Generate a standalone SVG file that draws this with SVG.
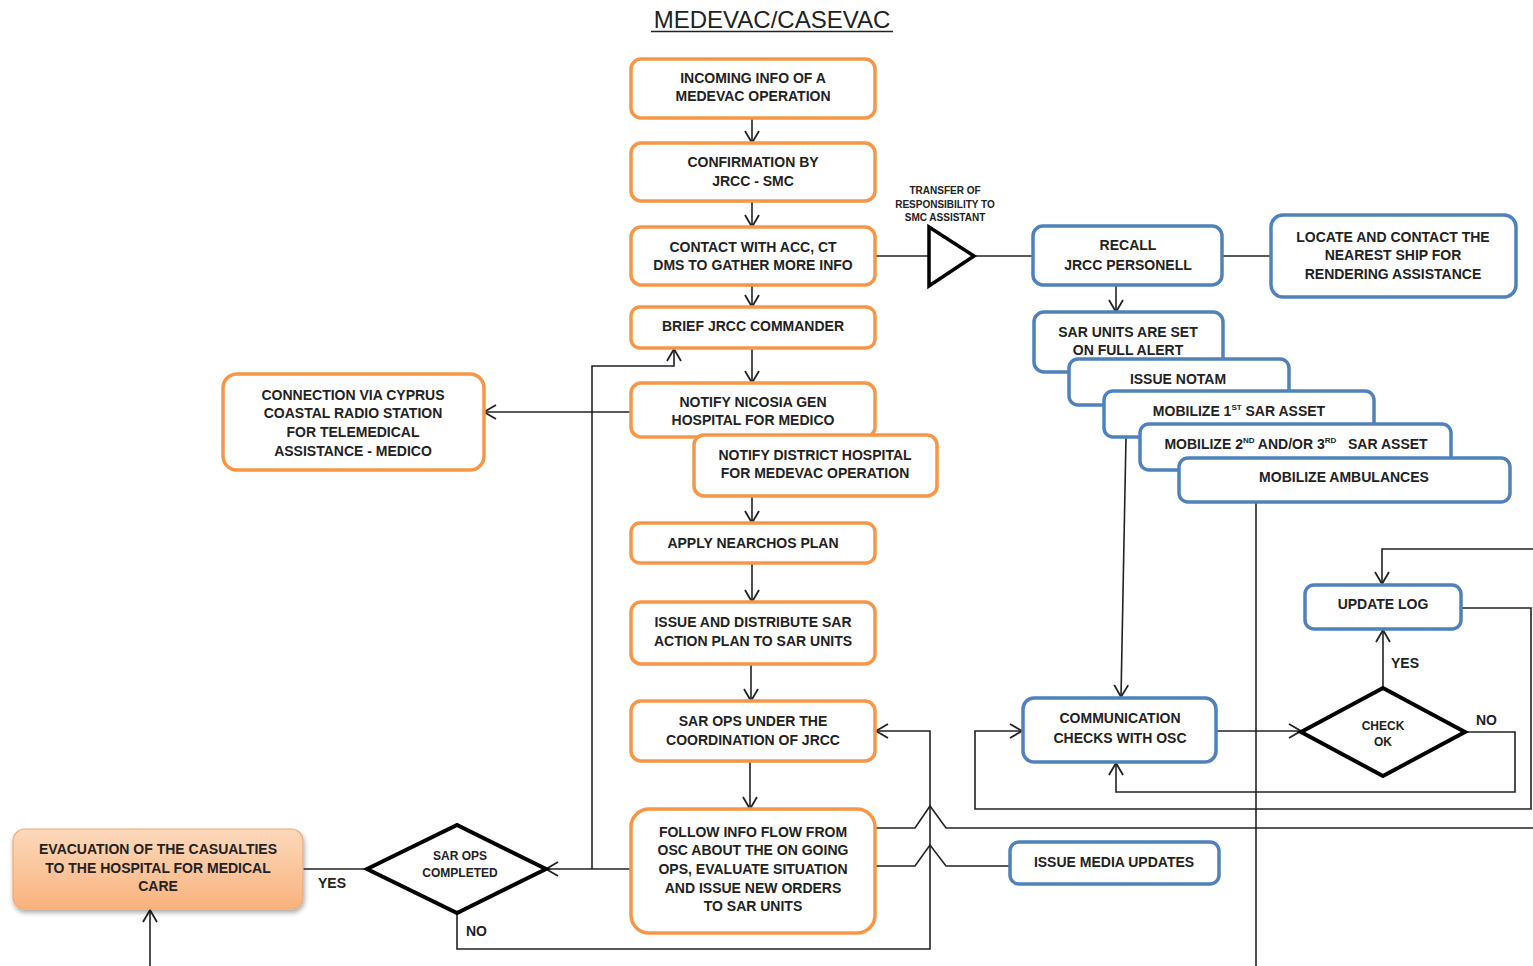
<svg xmlns="http://www.w3.org/2000/svg" width="1533" height="966" viewBox="0 0 1533 966">
<style>
.t{font-family:"Liberation Sans",Arial,sans-serif;font-weight:bold;font-size:14px;fill:#222;text-anchor:middle}
.s{font-size:12px}
.xs{font-size:10px}
.lbl{font-family:"Liberation Sans",Arial,sans-serif;font-weight:bold;font-size:14px;fill:#222}
.o{fill:#fff;stroke:#F79646;stroke-width:3.5}
.b{fill:#fff;stroke:#4F81BD;stroke-width:3.5}
.c{fill:none;stroke:#222;stroke-width:1.6}
.ca{fill:none;stroke:#222;stroke-width:1.6;marker-end:url(#ah)}
.d{fill:#fff;stroke:#000;stroke-width:4;stroke-linejoin:miter}
</style>
<defs>
<marker id="ah" markerUnits="userSpaceOnUse" markerWidth="16" markerHeight="16" refX="13" refY="8" orient="auto">
<path d="M1,1 L13,8 L1,15" fill="none" stroke="#222" stroke-width="1.8"/>
</marker>
<linearGradient id="eg" x1="0" y1="0" x2="0" y2="1">
<stop offset="0" stop-color="#FCD9BC"/>
<stop offset="1" stop-color="#F9B27C"/>
</linearGradient>
<filter id="sh" x="-10%" y="-10%" width="120%" height="130%">
<feGaussianBlur in="SourceAlpha" stdDeviation="2.5"/>
<feOffset dx="1" dy="3" result="o"/>
<feComponentTransfer><feFuncA type="linear" slope="0.35"/></feComponentTransfer>
<feMerge><feMergeNode/><feMergeNode in="SourceGraphic"/></feMerge>
</filter>
</defs>
<rect width="1533" height="966" fill="#fff"/>
<g id="title">
<text x="772" y="28" style="font-family:'Liberation Sans',Arial,sans-serif;font-size:24px;fill:#222;text-anchor:middle">MEDEVAC/CASEVAC</text>
<line x1="651" y1="31.5" x2="893" y2="31.5" stroke="#222" stroke-width="1.5"/>
</g>
<g id="connectors">
<path class="ca" d="M752,118 V143"/>
<path class="ca" d="M752,201 V227"/>
<path class="ca" d="M752,285 V307"/>
<path class="ca" d="M752,348 V383"/>
<path class="ca" d="M752,496 V523"/>
<path class="ca" d="M752,563 V602"/>
<path class="ca" d="M751,664 V701"/>
<path class="ca" d="M750,761 V809"/>
<path class="c" d="M875,256 H929"/>
<path class="c" d="M975,256 H1033"/>
<path class="c" d="M1222,256 H1271"/>
<path class="ca" d="M1116,285 V312"/>
<path class="ca" d="M631,412 H484"/>
<path class="ca" d="M631,869 H546"/>
<path class="ca" d="M592,869 V366 H674 V349"/>
<path class="c" d="M367,869 H303"/>
<path class="ca" d="M150,966 V910"/>
<path class="ca" d="M457,913 V949 H930 V731 H876"/>
<path class="c" d="M875,828 H915 L930,806 L946,828 H1533"/>
<path class="c" d="M875,866 H915 L930,845 L946,866 H1010"/>
<path class="ca" d="M1126,437 L1121,697"/>
<path class="c" d="M1256,502 V966"/>
<path class="ca" d="M1216,731 H1301"/>
<path class="ca" d="M1383,688 V630"/>
<path class="ca" d="M1465,732 H1515 V792 H1116 V763"/>
<path class="ca" d="M1461,608 H1531 V809 H975 V731 H1022"/>
<path class="ca" d="M1533,549 H1382 V584"/>
<text class="lbl" x="318" y="888">YES</text>
<text class="lbl" x="466" y="936">NO</text>
<text class="lbl" x="1391" y="668">YES</text>
<text class="lbl" x="1476" y="725">NO</text>
</g>
<g id="transfer">
<polygon points="929,227 929,286 974,256" fill="#fff" stroke="#000" stroke-width="3.5"/>
<text class="t xs" x="945" y="194">TRANSFER OF</text>
<text class="t xs" x="945" y="208">RESPONSIBILITY TO</text>
<text class="t xs" x="945" y="221">SMC ASSISTANT</text>
</g>
<g id="n-incoming"><rect class="o" x="631" y="59" width="244" height="59" rx="10"/>
<text class="t" x="753" y="83">INCOMING INFO OF A</text><text class="t" x="753" y="101">MEDEVAC OPERATION</text></g>
<g id="n-confirm"><rect class="o" x="631" y="143" width="244" height="58" rx="10"/>
<text class="t" x="753" y="167">CONFIRMATION BY</text><text class="t" x="753" y="186">JRCC - SMC</text></g>
<g id="n-contact"><rect class="o" x="631" y="227" width="244" height="58" rx="10"/>
<text class="t" x="753" y="252">CONTACT WITH ACC, CT</text><text class="t" x="753" y="270">DMS TO GATHER MORE INFO</text></g>
<g id="n-brief"><rect class="o" x="631" y="307" width="244" height="41" rx="9"/>
<text class="t" x="753" y="331">BRIEF JRCC COMMANDER</text></g>
<g id="n-nicosia"><rect class="o" x="631" y="383" width="244" height="54" rx="10"/>
<text class="t" x="753" y="407">NOTIFY NICOSIA GEN</text><text class="t" x="753" y="425">HOSPITAL FOR MEDICO</text></g>
<g id="n-district"><rect class="o" x="694" y="435" width="243" height="61" rx="10"/>
<text class="t" x="815" y="460">NOTIFY DISTRICT HOSPITAL</text><text class="t" x="815" y="478">FOR MEDEVAC OPERATION</text></g>
<g id="n-apply"><rect class="o" x="631" y="523" width="244" height="40" rx="9"/>
<text class="t" x="753" y="548">APPLY NEARCHOS PLAN</text></g>
<g id="n-issue"><rect class="o" x="631" y="602" width="244" height="62" rx="10"/>
<text class="t" x="753" y="627">ISSUE AND DISTRIBUTE SAR</text><text class="t" x="753" y="646">ACTION PLAN TO SAR UNITS</text></g>
<g id="n-sarops"><rect class="o" x="631" y="701" width="244" height="60" rx="10"/>
<text class="t" x="753" y="726">SAR OPS UNDER THE</text><text class="t" x="753" y="745">COORDINATION OF JRCC</text></g>
<g id="n-follow"><rect class="o" x="631" y="809" width="244" height="124" rx="18"/>
<text class="t" x="753" y="837">FOLLOW INFO FLOW FROM</text><text class="t" x="753" y="855">OSC ABOUT THE ON GOING</text><text class="t" x="753" y="874">OPS, EVALUATE SITUATION</text><text class="t" x="753" y="893">AND ISSUE NEW ORDERS</text><text class="t" x="753" y="911">TO SAR UNITS</text></g>
<g id="n-connection"><rect class="o" x="223" y="374" width="261" height="96" rx="14"/>
<text class="t" x="353" y="400">CONNECTION VIA CYPRUS</text><text class="t" x="353" y="418">COASTAL RADIO STATION</text><text class="t" x="353" y="437">FOR TELEMEDICAL</text><text class="t" x="353" y="456">ASSISTANCE - MEDICO</text></g>
<g id="n-evac"><rect x="13" y="829" width="290" height="80" rx="12" fill="url(#eg)" stroke="#F5A86E" stroke-width="1.2" filter="url(#sh)"/>
<text class="t" x="158" y="854">EVACUATION OF THE CASUALTIES</text><text class="t" x="158" y="873">TO THE HOSPITAL FOR MEDICAL</text><text class="t" x="158" y="891">CARE</text></g>
<g id="n-completed"><polygon class="d" points="367,869 457,825 546,869 457,913"/>
<text class="t s" x="460" y="860">SAR OPS</text><text class="t s" x="460" y="877">COMPLETED</text></g>
<g id="n-recall"><rect class="b" x="1033" y="226" width="189" height="59" rx="10"/>
<text class="t" x="1128" y="250">RECALL</text><text class="t" x="1128" y="270">JRCC PERSONELL</text></g>
<g id="n-locate"><rect class="b" x="1271" y="215" width="245" height="82" rx="12"/>
<text class="t" x="1393" y="242">LOCATE AND CONTACT THE</text><text class="t" x="1393" y="260">NEAREST SHIP FOR</text><text class="t" x="1393" y="279">RENDERING ASSISTANCE</text></g>
<g id="n-alert"><rect class="b" x="1034" y="312" width="189" height="60" rx="10"/>
<text class="t" x="1128" y="337">SAR UNITS ARE SET</text><text class="t" x="1128" y="355">ON FULL ALERT</text></g>
<g id="n-notam"><rect class="b" x="1069" y="359" width="220" height="46" rx="9"/>
<text class="t" x="1178" y="384">ISSUE NOTAM</text></g>
<g id="n-mob1"><rect class="b" x="1104" y="391" width="270" height="46" rx="9"/>
<text class="t" x="1239" y="416">MOBILIZE 1<tspan font-size="8" dy="-6">ST</tspan><tspan dy="6"> SAR ASSET</tspan></text></g>
<g id="n-mob2"><rect class="b" x="1140" y="424" width="311" height="46" rx="9"/>
<text class="t" x="1296" y="449" xml:space="preserve">MOBILIZE 2<tspan font-size="8" dy="-6">ND</tspan><tspan dy="6"> AND/OR 3</tspan><tspan font-size="8" dy="-6">RD</tspan><tspan dy="6">   SAR ASSET</tspan></text></g>
<g id="n-amb"><rect class="b" x="1179" y="458" width="331" height="44" rx="9"/>
<text class="t" x="1344" y="482">MOBILIZE AMBULANCES</text></g>
<g id="n-updatelog"><rect class="b" x="1305" y="585" width="156" height="44" rx="9"/>
<text class="t" x="1383" y="609">UPDATE LOG</text></g>
<g id="n-comm"><rect class="b" x="1023" y="698" width="193" height="64" rx="11"/>
<text class="t" x="1120" y="723">COMMUNICATION</text><text class="t" x="1120" y="743">CHECKS WITH OSC</text></g>
<g id="n-media"><rect class="b" x="1010" y="842" width="209" height="42" rx="9"/>
<text class="t" x="1114" y="867">ISSUE MEDIA UPDATES</text></g>
<g id="n-checkok"><polygon class="d" points="1301,732 1383,688 1465,732 1383,776"/>
<text class="t s" x="1383" y="730">CHECK</text><text class="t s" x="1383" y="746">OK</text></g>
</svg>
